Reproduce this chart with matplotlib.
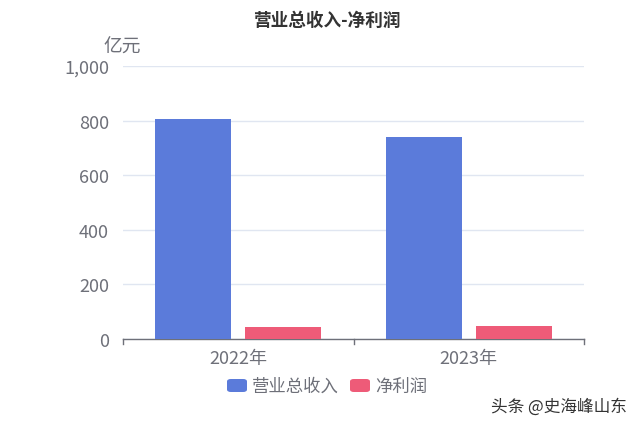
import matplotlib
matplotlib.use("Agg")
import matplotlib.pyplot as plt
from matplotlib.patches import FancyBboxPatch
import numpy as np

plt.rcParams['font.family'] = ['Noto Sans CJK SC', 'DejaVu Sans']

categories = ["2022年", "2023年"]
series_names = ["营业总收入", "净利润"]
revenue = [806, 740]
net_profit = [43.5, 46]
yticks = [0, 200, 400, 600, 800, 1000]
ytick_labels = ["0", "200", "400", "600", "800", "1,000"]

BLUE = "#5b7bda"
PINK = "#ee5b78"
AXIS_GRAY = "#6e7079"

fig = plt.figure(figsize=(6.4, 4.27), dpi=100)
ax = fig.add_axes([123 / 640, 1 - 340 / 427, 461 / 640, 273 / 427])

x = np.arange(len(categories))
w = 0.33
ax.bar(x - 0.196, revenue, width=w, color=BLUE, label=series_names[0], zorder=3)
ax.bar(x + 0.196, net_profit, width=w, color=PINK, label=series_names[1], zorder=3)

ax.set_xlim(-0.5, 1.5)
ax.set_ylim(0, 1000)
ax.set_yticks(yticks)
ax.set_yticklabels(ytick_labels)
ax.yaxis.grid(True, color="#e0e6f1", linewidth=1, zorder=0)
for s in ["top", "right", "left"]:
    ax.spines[s].set_visible(False)
ax.spines["bottom"].set_color(AXIS_GRAY)
ax.spines["bottom"].set_linewidth(1)
ax.tick_params(axis="y", length=0, pad=10, labelsize=13, labelcolor=AXIS_GRAY)
ax.set_xticks(x)
ax.set_xticklabels(categories)
ax.tick_params(axis="x", length=0, pad=7, labelsize=13, labelcolor=AXIS_GRAY)
# category boundary ticks
for xb in [-0.5, 0.5, 1.5]:
    ax.plot([xb, xb], [0, -18], color=AXIS_GRAY, linewidth=1, clip_on=False)

fig.text(327 / 640, 1 - 21 / 427, "营业总收入-净利润", ha="center", va="center",
         fontsize=12.7, fontweight="bold", color="#333333")
fig.text(103 / 640, 1 - 47 / 427, "亿元", ha="left", va="center",
         fontsize=13.5, color=AXIS_GRAY)

# legend
legend_y = 1 - 386.5 / 427
for (px, name, color, tx) in [(227, series_names[0], BLUE, 252),
                              (350, series_names[1], PINK, 375)]:
    patch = FancyBboxPatch((px / 640, legend_y - 6.5 / 427), 20 / 640, 13 / 427,
                           boxstyle="round,pad=0,rounding_size=0.006",
                           transform=fig.transFigure, color=color,
                           linewidth=0)
    fig.patches.append(patch)
    fig.text(tx / 640, legend_y, name, ha="left", va="center",
             fontsize=12.5, color=AXIS_GRAY)

fig.text(627 / 640, 1 - 407 / 427, "头条 @史海峰山东", ha="right", va="center",
         fontsize=12, color="#333333")

fig.savefig("out.png", dpi=100)
